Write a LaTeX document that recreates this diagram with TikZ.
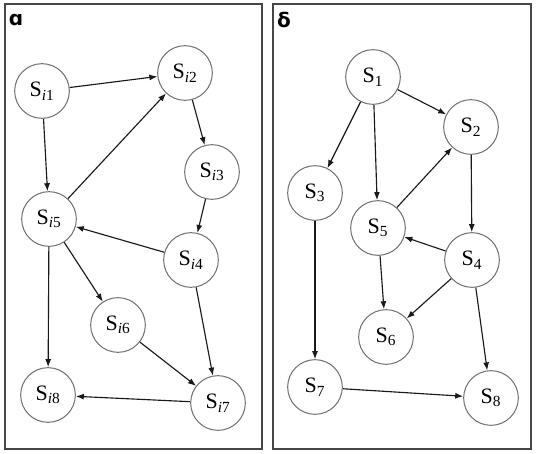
\documentclass[tikz,border=0pt]{standalone}
\usepackage{fontspec}
\setmainfont{Liberation Serif}
\newfontfamily\lblfont{DejaVu Sans}
\usetikzlibrary{arrows.meta}

\tikzset{every picture/.style={line width=0.75pt}}
\tikzset{
  state/.style={circle, draw={rgb,255:red,110;green,110;blue,110}, fill=white, minimum size=41pt, inner sep=0pt, font=\fontsize{16.5}{19}\selectfont},
  link/.style={-{Latex[length=6pt,width=4.5pt]}, line width=0.85pt, draw={rgb,255:red,25;green,25;blue,25}},
  panel/.style={draw={rgb,255:red,70;green,70;blue,70}, line width=1.5pt}
}
\newcommand{\si}[1]{S\textsubscript{\textit{i}#1}}

\begin{document}
\begin{tikzpicture}[x=0.75pt,y=0.75pt,yscale=-1,xscale=1]
\useasboundingbox (0,0) rectangle (537,454);

%Shape: Rectangle [left panel]
\draw [panel] (5,4) rectangle (262,449);
%Shape: Rectangle [right panel]
\draw [panel] (273,4) rectangle (531,449);

% Text Node
\node (lblA) at (16,20) {\lblfont\fontsize{15}{18}\selectfont\bfseries ɑ};
% Text Node
\node (lblD) at (284,20) {\lblfont\fontsize{15}{18}\selectfont\bfseries δ};

%Shape: Circle [left states]
\node [state] (si1) at (42,91) {\si{1}};
\node [state] (si2) at (185,73) {\si{2}};
\node [state] (si3) at (212,172) {\si{3}};
\node [state] (si4) at (191,260) {\si{4}};
\node [state] (si5) at (49,219) {\si{5}};
\node [state] (si6) at (118,325) {\si{6}};
\node [state] (si7) at (218,403) {\si{7}};
\node [state] (si8) at (48,395) {\si{8}};

%Shape: Circle [right states]
\node [state] (s1) at (373,77) {S\textsubscript{1}};
\node [state] (s2) at (471,127) {S\textsubscript{2}};
\node [state] (s3) at (315,193) {S\textsubscript{3}};
\node [state] (s4) at (472,260) {S\textsubscript{4}};
\node [state] (s5) at (378,228) {S\textsubscript{5}};
\node [state] (s6) at (386,337) {S\textsubscript{6}};
\node [state] (s7) at (315,387) {S\textsubscript{7}};
\node [state] (s8) at (491,398) {S\textsubscript{8}};

%Straight Lines [left]
\draw [link] (si1) -- (si2);
\draw [link] (si1) -- (si5);
\draw [link] (si5) -- (si2);
\draw [link] (si2) -- (si3);
\draw [link] (si3) -- (si4);
\draw [link] (si4) -- (si5);
\draw [link] (si4) -- (si7);
\draw [link] (si5) -- (si6);
\draw [link] (si5) -- (si8);
\draw [link] (si6) -- (si7);
\draw [link] (si7) -- (si8);

%Straight Lines [right]
\draw [link] (s1) -- (s2);
\draw [link] (s1) -- (s3);
\draw [link] (s1) -- (s5);
\draw [link] (s5) -- (s2);
\draw [link] (s2) -- (s4);
\draw [link] (s4) -- (s5);
\draw [link] (s4) -- (s6);
\draw [link] (s4) -- (s8);
\draw [link] (s5) -- (s6);
\draw [link] (s3) -- (s7);
\draw [link] (s7) -- (s8);

\end{tikzpicture}
\end{document}
